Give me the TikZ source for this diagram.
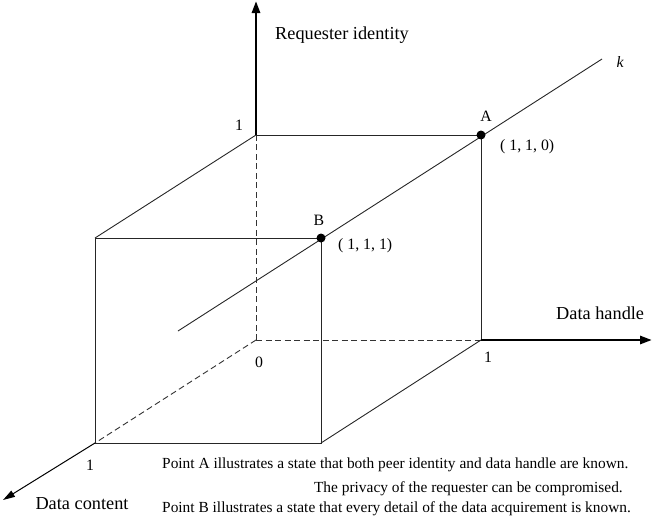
\documentclass[tikz,border=0pt]{standalone}
\usepackage{fontspec}
\setmainfont{Liberation Serif}
\usetikzlibrary{arrows.meta}
\begin{document}
\begin{tikzpicture}[x=1pt,y=-1pt,
  axis/.style={line width=2.7pt,-{Triangle[length=12pt,width=8pt]}},
  axisthin/.style={line width=1pt,-{Triangle[length=12pt,width=7pt]}},
  edge/.style={line width=0.9pt,black!85},
  hidden/.style={line width=0.9pt,dash pattern=on 6pt off 3.5pt,black!80},
  lbl/.style={font=\fontsize{18.3}{20}\selectfont,inner sep=0pt},
  num/.style={font=\fontsize{15.8}{17}\selectfont,inner sep=0pt},
  captext/.style={font=\fontsize{15.4}{17}\selectfont,inner sep=0pt},
  dot/.style={circle,fill=black,inner sep=0pt,minimum size=9pt}]
\useasboundingbox (0,0) rectangle (652,525);
% corners
\coordinate (O) at (256,340);
\coordinate (T) at (256,135);
\coordinate (R) at (481,340);
\coordinate (A) at (481,135);
\coordinate (F1) at (95,238);
\coordinate (B) at (321,238);
\coordinate (F3) at (321,443);
\coordinate (F4) at (95,443);
\coordinate (Ytip) at (256,1);
\coordinate (Xtip) at (652,340);
\coordinate (Ztip) at (3,500);
\coordinate (K0) at (178,331);
\coordinate (K1) at (602,59);
% hidden edges
\draw[hidden] (O) -- (T);
\draw[hidden] (O) -- (R);
\draw[hidden] (O) -- (F4);
% visible edges
\draw[edge] (F1) -- (B) -- (F3) -- (F4) -- cycle;
\draw[edge] (T) -- (A) -- (R);
\draw[edge] (T) -- (F1);
\draw[edge] (R) -- (F3);
\draw[edge] (K0) -- (K1);
% axes
\draw[axis] (T) -- (Ytip);
\draw[axis] (R) -- (Xtip);
\draw[axisthin] (F4) -- (Ztip);
% points
\node[dot] (pA) at (A) {};
\node[dot] (pB) at (B) {};
% labels
\node[lbl,anchor=base west] (ly) at (275,39) {Requester identity};
\node[lbl,anchor=base west] (lx) at (556,319) {Data handle};
\node[lbl,anchor=base] (lz) at (82,509) {Data content};
\node[num,font=\fontsize{15.8}{17}\selectfont\itshape] (lk) at (620,62) {k};
\node[num] (lA) at (486,116) {A};
\node[num] (lB) at (319,220) {B};
\node[num,anchor=west] (cA) at (500,147) {( 1, 1, 0)};
\node[num,anchor=west] (cB) at (338,246) {( 1, 1, 1)};
\node[num] (l0) at (259,362) {0};
\node[num] (l1x) at (488,357) {1};
\node[num] (l1y) at (239,125) {1};
\node[num] (l1z) at (90,465) {1};
\node[captext,anchor=west] (c1) at (162,465) {Point A illustrates a state that both peer identity and data handle are known.};
\node[captext,anchor=east] (c2) at (623,489) {The privacy of the requester can be compromised.};
\node[captext,anchor=west] (c3) at (162,509) {Point B illustrates a state that every detail of the data acquirement is known.};
\end{tikzpicture}
\end{document}
